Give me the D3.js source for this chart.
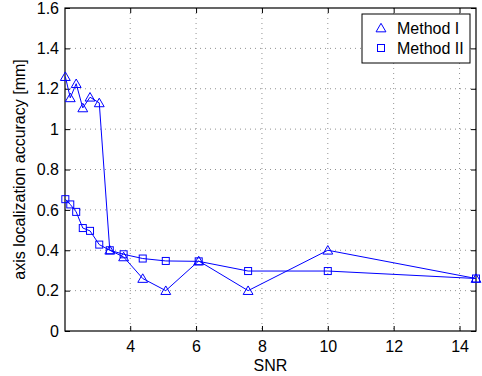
<!DOCTYPE html>
<html>
<head>
<meta charset="utf-8">
<script src="https://cdn.jsdelivr.net/npm/d3@7"></script>
<style>
  body { margin: 0; background: #fff; }
  text { font-family: "Liberation Sans", Arial, Helvetica, sans-serif; }
</style>
</head>
<body>
<script>
const snr = [2.03, 2.18, 2.36, 2.56, 2.78, 3.06, 3.38, 3.8, 4.38, 5.08, 6.08, 7.58, 10, 14.5];
const methodI = [1.26, 1.155, 1.225, 1.105, 1.158, 1.13, 0.40, 0.367, 0.26, 0.20, 0.347, 0.20, 0.40, 0.26];
const methodII = [0.653, 0.627, 0.59, 0.51, 0.496, 0.428, 0.40, 0.38, 0.359, 0.347, 0.345, 0.297, 0.297, 0.26];
const xTicks = [4, 6, 8, 10, 12, 14];
const yTicks = [0, 0.2, 0.4, 0.6, 0.8, 1, 1.2, 1.4, 1.6];
const seriesNames = ['Method I', 'Method II'];

const width = 482, height = 376;
const m = { left: 65, right: 476, top: 8, bottom: 331 };
const blue = '#0000ff';
const fs = 16;

const svg = d3.select('body').append('svg')
  .attr('width', width)
  .attr('height', height);

const x = d3.scaleLinear().domain([2.02, 14.5]).range([m.left, m.right]);
const y = d3.scaleLinear().domain([0, 1.6]).range([m.bottom, m.top]);

// grid
const grid = svg.append('g');
grid.selectAll('.gx').data(xTicks).enter().append('line')
  .attr('x1', d => x(d)).attr('x2', d => x(d))
  .attr('y1', m.top).attr('y2', m.bottom)
  .attr('stroke', '#777').attr('stroke-width', 0.8).attr('stroke-dasharray', '1,4');
grid.selectAll('.gy').data(yTicks.slice(1, -1)).enter().append('line')
  .attr('x1', m.left).attr('x2', m.right)
  .attr('y1', d => y(d)).attr('y2', d => y(d))
  .attr('stroke', '#777').attr('stroke-width', 0.8).attr('stroke-dasharray', '1,4');

// axes (ticks inside, mirrored)
const fmt = d => d3.format('~g')(d);
const axB = svg.append('g').attr('transform', `translate(0,${m.bottom})`)
  .call(d3.axisBottom(x).tickValues(xTicks).tickSize(-5).tickPadding(10).tickFormat(fmt));
const axT = svg.append('g').attr('transform', `translate(0,${m.top})`)
  .call(d3.axisTop(x).tickValues(xTicks).tickSize(-5).tickFormat(''));
const axL = svg.append('g').attr('transform', `translate(${m.left},0)`)
  .call(d3.axisLeft(y).tickValues(yTicks).tickSize(-5).tickPadding(6).tickFormat(fmt));
const axR = svg.append('g').attr('transform', `translate(${m.right},0)`)
  .call(d3.axisRight(y).tickValues(yTicks).tickSize(-5).tickFormat(''));
[axB, axT, axL, axR].forEach(a => {
  a.select('.domain').remove();
  a.selectAll('line').attr('stroke', '#000');
  a.selectAll('text').attr('font-size', fs).attr('fill', '#000')
    .style('font-family', '"Liberation Sans", Arial, sans-serif');
});
svg.append('rect')
  .attr('x', m.left).attr('y', m.top)
  .attr('width', m.right - m.left).attr('height', m.bottom - m.top)
  .attr('fill', 'none').attr('stroke', '#000').attr('stroke-width', 1.2);

// lines
const line = d3.line().x(d => x(d[0])).y(d => y(d[1]));
const dataI = snr.map((s, i) => [s, methodI[i]]);
const dataII = snr.map((s, i) => [s, methodII[i]]);
[dataI, dataII].forEach(d => {
  svg.append('path').datum(d).attr('d', line)
    .attr('fill', 'none').attr('stroke', blue).attr('stroke-width', 1);
});

const tri = d3.symbol().type(d3.symbolTriangle).size(42);
svg.selectAll('.tri').data(dataI).enter().append('path')
  .attr('d', tri)
  .attr('transform', d => `translate(${x(d[0])},${y(d[1]) + 1})`)
  .attr('fill', 'none').attr('stroke', blue).attr('stroke-width', 1);
svg.selectAll('.sq').data(dataII).enter().append('rect')
  .attr('x', d => x(d[0]) - 3.5).attr('y', d => y(d[1]) - 3.5)
  .attr('width', 7).attr('height', 7)
  .attr('fill', 'none').attr('stroke', blue).attr('stroke-width', 1);

// labels
svg.append('text')
  .attr('x', (m.left + m.right) / 2).attr('y', 371)
  .attr('text-anchor', 'middle').attr('font-size', fs)
  .text('SNR');
svg.append('text')
  .attr('transform', `translate(25,${(m.top + m.bottom) / 2}) rotate(-90)`)
  .attr('text-anchor', 'middle').attr('font-size', fs)
  .text('axis localization accuracy [mm]');

// legend
const lg = svg.append('g');
lg.append('rect')
  .attr('x', 362).attr('y', 14).attr('width', 108).attr('height', 49)
  .attr('fill', '#fff').attr('stroke', '#000').attr('stroke-width', 1);
seriesNames.forEach((name, i) => {
  const cy = 28 + i * 20;
  if (i === 0) {
    lg.append('path').attr('d', tri)
      .attr('transform', `translate(381,${cy + 1})`)
      .attr('fill', 'none').attr('stroke', blue);
  } else {
    lg.append('rect').attr('x', 377.5).attr('y', cy - 3.5)
      .attr('width', 7).attr('height', 7)
      .attr('fill', 'none').attr('stroke', blue);
  }
  lg.append('text').attr('x', 397).attr('y', cy + 6)
    .attr('font-size', fs).text(name);
});
</script>
</body>
</html>
